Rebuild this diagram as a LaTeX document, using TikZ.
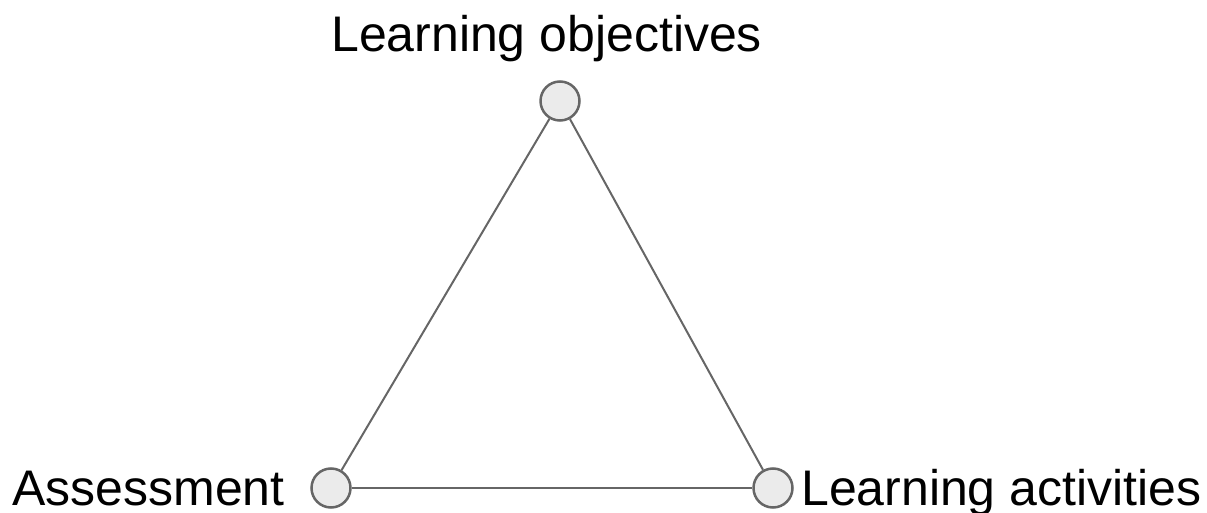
\documentclass[tikz,border=0pt]{standalone}
\usepackage{fontspec}
\setmainfont{Liberation Sans}
\begin{document}
\begin{tikzpicture}[x=1pt,y=1pt,
  vtx/.style={circle,draw=black!60,fill=black!8,line width=2.5pt,minimum size=39pt,inner sep=0pt},
  lbl/.style={font=\fontsize{50}{60}\selectfont,inner sep=0pt},
  edge/.style={draw=black!60,line width=2pt}]
\useasboundingbox (0,0) rectangle (1207,512);
\node[vtx] (o) at (560,411) {};
\node[vtx] (a) at (331,24) {};
\node[vtx] (l) at (773,24) {};
\path[edge] (o) -- (a);
\path[edge] (o) -- (l);
\path[edge] (a) -- (l);
\node[lbl,anchor=base west] (to) at (331,460) {Learning objectives};
\node[lbl,anchor=base west] (ta) at (12,7) {Assessment};
\node[lbl,anchor=base west] (tl) at (801,7) {Learning activities};
\end{tikzpicture}
\end{document}
